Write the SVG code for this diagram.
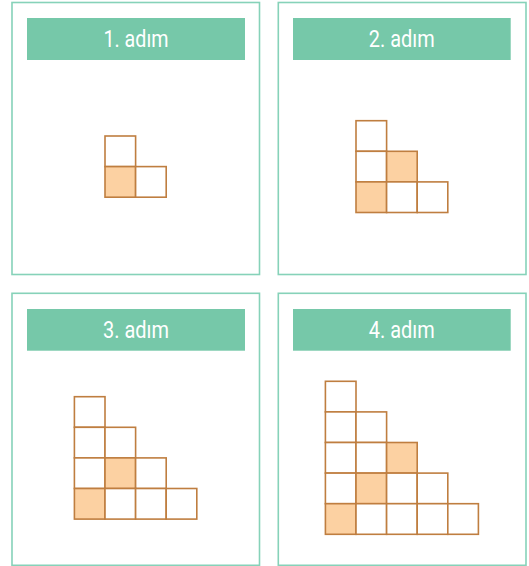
<svg xmlns="http://www.w3.org/2000/svg" width="529" height="566" viewBox="0 0 529 566">
<style>
.frame{fill:#fff;stroke:#86D2B9;stroke-width:1.6}
.hdr{fill:#76C8A9}
.t{font-family:Roboto,"Liberation Sans",sans-serif;font-size:24.5px;fill:#fff;text-anchor:middle}
.c{fill:#fff;stroke:#BF7E40;stroke-width:1.6}
.o{fill:#FCD1A2;stroke:#BF7E40;stroke-width:1.6}
</style>
<rect width="529" height="566" fill="#fff"/>
<g id="step1">
<rect class="frame" x="12" y="2.5" width="247.5" height="272"/>
<rect class="hdr" x="27" y="18" width="218" height="42"/>
<text class="t" x="136" y="47.3" textLength="65" lengthAdjust="spacingAndGlyphs">1. adım</text>
<rect class="c" x="105" y="136" width="30.6" height="30.6"/>
<rect class="o" x="105" y="166.6" width="30.6" height="30.6"/>
<rect class="c" x="135.6" y="166.6" width="30.6" height="30.6"/>
</g>
<g id="step2">
<rect class="frame" x="278.3" y="2.5" width="247.7" height="272"/>
<rect class="hdr" x="293" y="18" width="217.7" height="42"/>
<text class="t" x="401.8" y="47.3" textLength="66" lengthAdjust="spacingAndGlyphs">2. adım</text>
<rect class="c" x="356" y="120.7" width="30.6" height="30.6"/>
<rect class="c" x="356" y="151.3" width="30.6" height="30.6"/>
<rect class="o" x="386.6" y="151.3" width="30.6" height="30.6"/>
<rect class="o" x="356" y="181.9" width="30.6" height="30.6"/>
<rect class="c" x="386.6" y="181.9" width="30.6" height="30.6"/>
<rect class="c" x="417.2" y="181.9" width="30.6" height="30.6"/>
</g>
<g id="step3">
<rect class="frame" x="12" y="293.3" width="247.5" height="272"/>
<rect class="hdr" x="27" y="309" width="218" height="41.7"/>
<text class="t" x="136" y="338.3" textLength="66" lengthAdjust="spacingAndGlyphs">3. adım</text>
<rect class="c" x="74.4" y="396.7" width="30.6" height="30.6"/>
<rect class="c" x="74.4" y="427.3" width="30.6" height="30.6"/>
<rect class="c" x="105" y="427.3" width="30.6" height="30.6"/>
<rect class="c" x="74.4" y="457.9" width="30.6" height="30.6"/>
<rect class="o" x="105" y="457.9" width="30.6" height="30.6"/>
<rect class="c" x="135.6" y="457.9" width="30.6" height="30.6"/>
<rect class="o" x="74.4" y="488.5" width="30.6" height="30.6"/>
<rect class="c" x="105" y="488.5" width="30.6" height="30.6"/>
<rect class="c" x="135.6" y="488.5" width="30.6" height="30.6"/>
<rect class="c" x="166.2" y="488.5" width="30.6" height="30.6"/>
</g>
<g id="step4">
<rect class="frame" x="278.3" y="293.3" width="247.7" height="272"/>
<rect class="hdr" x="293" y="309" width="217.7" height="41.7"/>
<text class="t" x="401.8" y="338.3" textLength="66" lengthAdjust="spacingAndGlyphs">4. adım</text>
<rect class="c" x="325.4" y="381.3" width="30.6" height="30.6"/>
<rect class="c" x="325.4" y="411.9" width="30.6" height="30.6"/>
<rect class="c" x="356" y="411.9" width="30.6" height="30.6"/>
<rect class="c" x="325.4" y="442.5" width="30.6" height="30.6"/>
<rect class="c" x="356" y="442.5" width="30.6" height="30.6"/>
<rect class="o" x="386.6" y="442.5" width="30.6" height="30.6"/>
<rect class="c" x="325.4" y="473.1" width="30.6" height="30.6"/>
<rect class="o" x="356" y="473.1" width="30.6" height="30.6"/>
<rect class="c" x="386.6" y="473.1" width="30.6" height="30.6"/>
<rect class="c" x="417.2" y="473.1" width="30.6" height="30.6"/>
<rect class="o" x="325.4" y="503.7" width="30.6" height="30.6"/>
<rect class="c" x="356" y="503.7" width="30.6" height="30.6"/>
<rect class="c" x="386.6" y="503.7" width="30.6" height="30.6"/>
<rect class="c" x="417.2" y="503.7" width="30.6" height="30.6"/>
<rect class="c" x="447.8" y="503.7" width="30.6" height="30.6"/>
</g>
<g id="connectors"/>
</svg>
